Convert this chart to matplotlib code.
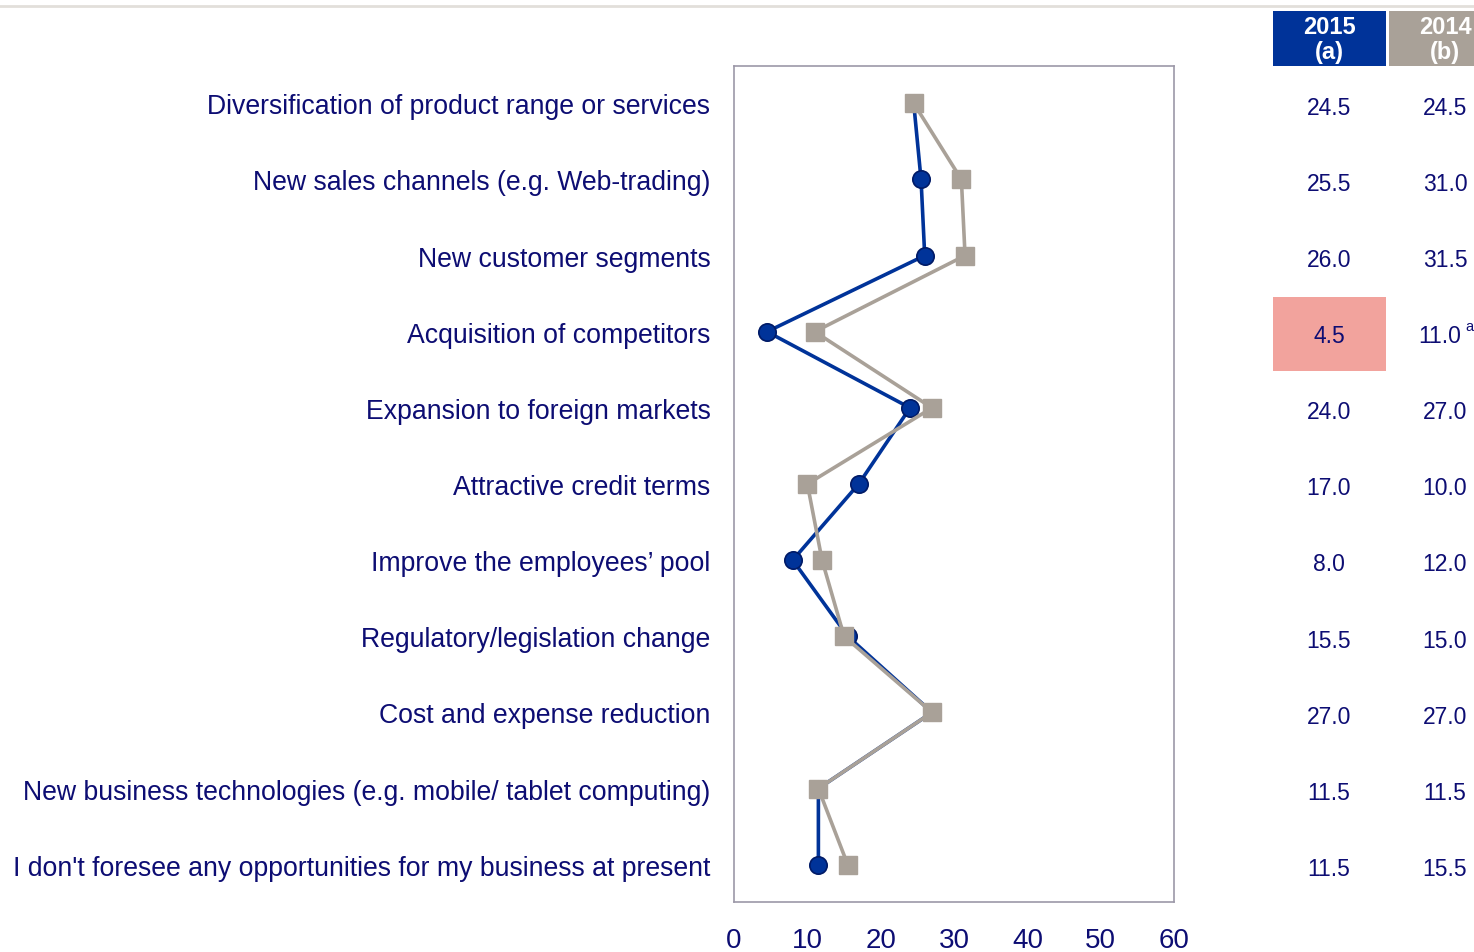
import numpy as np
import matplotlib
matplotlib.use('Agg')
import matplotlib.pyplot as plt
from matplotlib.patches import Rectangle
import matplotlib.transforms as mtransforms

plt.rcParams['font.family'] = ['Liberation Sans', 'DejaVu Sans']

categories = [
    "Diversification of product range or services",
    "New sales channels (e.g. Web-trading)",
    "New customer segments",
    "Acquisition of competitors",
    "Expansion to foreign markets",
    "Attractive credit terms",
    "Improve the employees\u2019 pool",
    "Regulatory/legislation change",
    "Cost and expense reduction",
    "New business technologies (e.g. mobile/ tablet computing)",
    "I don't foresee any opportunities for my business at present",
]
values_2015 = [24.5, 25.5, 26.0, 4.5, 24.0, 17.0, 8.0, 15.5, 27.0, 11.5, 11.5]
values_2014 = [24.5, 31.0, 31.5, 11.0, 27.0, 10.0, 12.0, 15.0, 27.0, 11.5, 15.5]
header_2015 = "2015\n(a)"
header_2014 = "2014\n(b)"

navy = '#0d0d73'
blue = '#003399'
grey = '#a9a198'

fig = plt.figure(figsize=(14.74, 9.53), dpi=100)
ax = fig.add_axes([0.498, 0.0525, 0.2985, 0.8772])

y = np.arange(len(categories))
ax.plot(values_2015, y, color=blue, lw=2.6, marker='o', markersize=12.5,
        markerfacecolor=blue, markeredgecolor='#001a66', markeredgewidth=1.2, zorder=2)
ax.plot(values_2014, y, color=grey, lw=2.6, marker='s', markersize=13.5,
        markerfacecolor=grey, markeredgecolor=grey, zorder=3)

ax.set_xlim(0, 60)
ax.set_ylim(10.49, -0.49)
ax.set_xticks(range(0, 61, 10))
ax.tick_params(axis='x', length=0, labelsize=20, labelcolor=navy, pad=18)
ax.set_yticks(y)
ax.set_yticklabels(categories)
ax.tick_params(axis='y', length=0, labelsize=19.2, labelcolor=navy, pad=17)
for s in ax.spines.values():
    s.set_color('#9c98a8')
    s.set_linewidth(1.2)

# table on the right
trans = mtransforms.blended_transform_factory(fig.transFigure, ax.transData)
x15 = 1329 / 1474
x14 = 1445 / 1474
for i in y:
    ax.text(x15, i + 0.05, f"{values_2015[i]:.1f}", transform=trans, ha='center', va='center',
            fontsize=16.5, color=navy, clip_on=False)
    if i == 3:
        ax.text(1440 / 1474, i + 0.05, f"{values_2014[i]:.1f}", transform=trans, ha='center',
                va='center', fontsize=16.5, color=navy, clip_on=False)
        ax.text(1465 / 1474, i - 0.08, "a", transform=trans, ha='left', va='center',
                fontsize=10.5, color=navy, clip_on=False)
    else:
        ax.text(x14, i + 0.05, f"{values_2014[i]:.1f}", transform=trans, ha='center', va='center',
                fontsize=16.5, color=navy, clip_on=False)

# highlight box for acquisition of competitors
ax.add_patch(Rectangle((1273 / 1474, 2.55), 113 / 1474, 0.96, transform=trans,
                       facecolor='#f2a39d', edgecolor='none', clip_on=False, zorder=0))

# header boxes
fig.patches.append(Rectangle((1273 / 1474, 1 - 67 / 953), 113 / 1474, 55 / 953,
                             transform=fig.transFigure, facecolor=blue, edgecolor='none'))
fig.patches.append(Rectangle((1389 / 1474, 1 - 67 / 953), 90 / 1474, 55 / 953,
                             transform=fig.transFigure, facecolor=grey, edgecolor='none'))
fig.text(x15, 1 - 40 / 953, header_2015, ha='center', va='center', color='white',
         fontsize=17, fontweight='bold', linespacing=1.15)
fig.text(x14, 1 - 40 / 953, header_2014, ha='center', va='center', color='white',
         fontsize=17, fontweight='bold', linespacing=1.15)

# thin line across the top
fig.add_artist(plt.Line2D([0, 1], [1 - 7 / 953, 1 - 7 / 953], transform=fig.transFigure,
                          color='#e2dfda', lw=2))

plt.savefig("out.png", dpi=100)
